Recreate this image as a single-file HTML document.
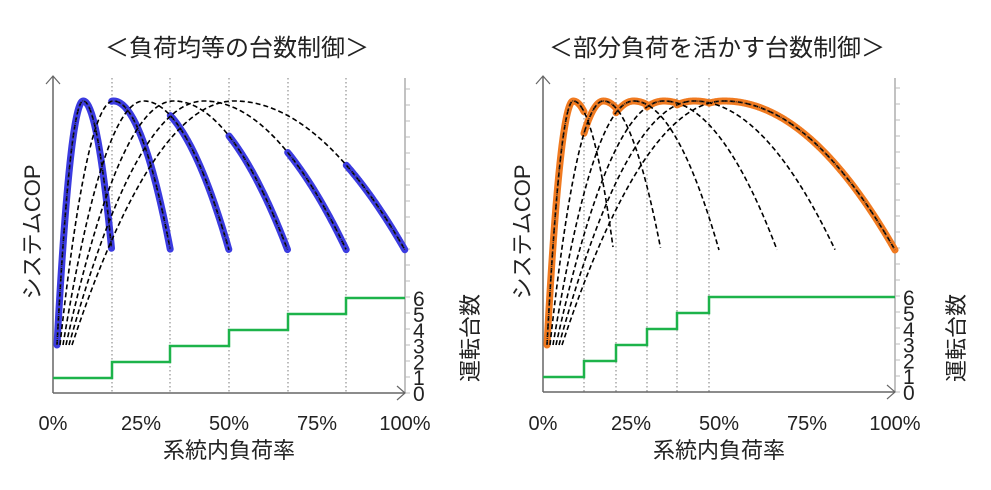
<!DOCTYPE html>
<html><head><meta charset="utf-8"><style>
html,body{margin:0;padding:0;background:#fff;}
svg text{font-family:"Liberation Sans","Noto Sans CJK JP",sans-serif;fill:#222;}
</style></head><body>
<svg id="s" width="991" height="485" viewBox="0 0 991 485" xmlns="http://www.w3.org/2000/svg">
<text x="237" y="56" font-size="24" text-anchor="middle">＜負荷均等の台数制御＞</text>
<text x="717" y="56" font-size="24" text-anchor="middle">＜部分負荷を活かす台数制御＞</text>
<g id="L"></g><g id="R"></g>
</svg>
<script>
const NS="http://www.w3.org/2000/svg";
function el(p,t,a,txt){const e=document.createElementNS(NS,t);for(const k in a)e.setAttribute(k,a[k]);if(txt!==undefined)e.textContent=txt;p.appendChild(e);return e;}
function chart(g,x0,x1,ya,steps,color,mode,ylab){
 const W=x1-x0;
 el(g,'line',{x1:x1,y1:78,x2:x1,y2:ya,stroke:'#999','stroke-width':1.2});
 for(let i=0;i<=19;i++){const y=ya-i*16;if(y<80)break;el(g,'line',{x1:x1,y1:y,x2:x1+5,y2:y,stroke:'#bbb','stroke-width':1});}
 steps.forEach(x=>el(g,'line',{x1:x,y1:78,x2:x,y2:ya,stroke:'#999','stroke-width':1.3,'stroke-dasharray':'1.5,2.5'}));
 el(g,'line',{x1:x0,y1:ya,x2:x1,y2:ya,stroke:'#666','stroke-width':1.5});
 el(g,'line',{x1:x0,y1:ya,x2:x0,y2:76,stroke:'#666','stroke-width':1.5});
 el(g,'path',{d:`M${x0-7} ${84}L${x0} 76L${x0+7} 84`,fill:'none',stroke:'#666','stroke-width':1.2});
 el(g,'path',{d:`M${x1-8} ${ya-7}L${x1} ${ya}L${x1-8} ${ya+7}`,fill:'none',stroke:'#666','stroke-width':1.2});
 function f(n,x,ends){const xs=x0+4+3*(n-1),xp=x0+W*0.515*n/6,xe=ends[n-1];
   if(x<=xp){const t=(xp-x)/(xp-xs);return 101+244*t*t;}const t=(x-xp)/(xe-xp);return 101+149*t*t;}
 let ends=[1,2,3,4,5,6].map(n=>x0+W*n/6);
 if(mode==1){ends=[x0+W*0.2,x0+W*0.335,x0+W*0.5,x0+W*0.665,x0+W*0.83,x1];}
 function path(n,a,b){let d='';for(let x=a;x<=b+0.01;x+=0.5){d+=(d?'L':'M')+x.toFixed(1)+' '+f(n,x,ends).toFixed(1);}return d;}
 const xsOf=n=>x0+4+3*(n-1);
 let hl=[];
 if(mode==0){for(let n=1;n<=6;n++){const a=n==1?xsOf(1):x0+W*(n-1)/6;hl.push(path(n,a,ends[n-1]));}}
 else{const b=[xsOf(1)].concat(steps).concat([x1]);for(let n=1;n<=6;n++)hl.push(path(n,b[n-1],b[n]));}
 const hd=hl.join('');
 el(g,'path',{d:hd,fill:'none',stroke:color,'stroke-width':7,'stroke-linecap':'round','stroke-linejoin':'round'});
 for(let n=1;n<=6;n++)el(g,'path',{d:path(n,xsOf(n),ends[n-1]),fill:'none',stroke:'#000','stroke-width':1.6,'stroke-dasharray':'5,3'});
 el(g,'path',{d:hd,fill:'none',stroke:'#333','stroke-width':1.5,'stroke-dasharray':'1,2'});
 let d=`M${x0} ${ya-15}`;steps.forEach((x,i)=>{d+=`H${x}V${ya-15-16*(i+1)}`;});d+=`H${x1}`;
 el(g,'path',{d:d,fill:'none',stroke:'#1db34a','stroke-width':2.5});
 for(let i=0;i<=6;i++)el(g,'text',{x:x1+8,y:ya+8-i*15.8,'font-size':21},String(i));
 ['0%','25%','50%','75%','100%'].forEach((t,i)=>el(g,'text',{x:x0+W*i/4,y:430,'font-size':20,'text-anchor':'middle'},t));
 el(g,'text',{x:0,y:0,'font-size':22,'text-anchor':'middle',transform:`translate(${x0+W*0.5},458)`},'系統内負荷率');
 el(g,'text',{x:0,y:0,'font-size':22,'text-anchor':'middle',transform:`translate(${x0-13},232) rotate(-90)`},'システムCOP');
 el(g,'text',{x:0,y:0,'font-size':22,'text-anchor':'middle',transform:`translate(${ylab},338) rotate(-90)`},'運転台数');
}
chart(document.getElementById('L'),53,405,393,[112,170,229,288,346],'#3b3be0',0,478);
chart(document.getElementById('R'),543,895,392,[584,616,647,677,709],'#f07a20',1,964);
</script>
</body></html>
